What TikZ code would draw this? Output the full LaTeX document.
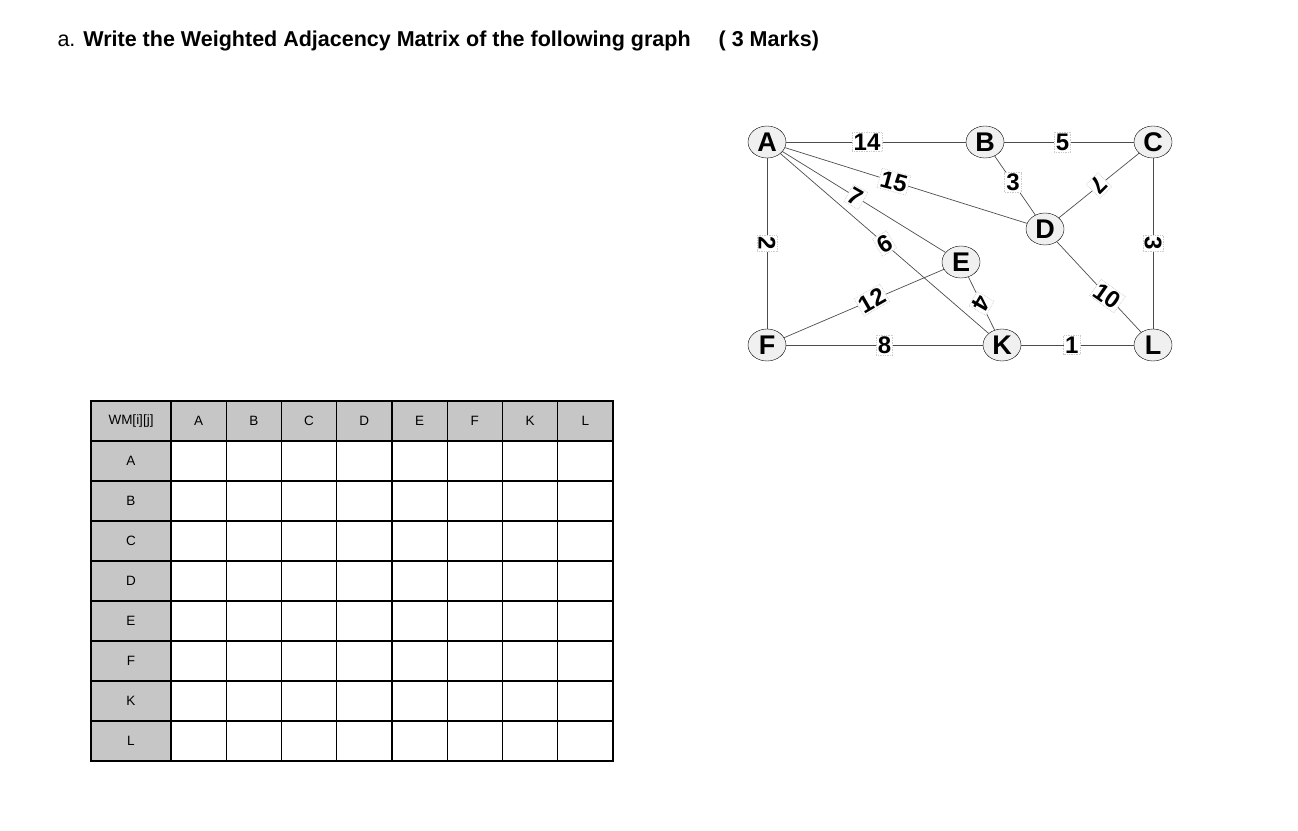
\documentclass[tikz,border=0pt]{standalone}
\usepackage{fontspec}
\setmainfont{Liberation Sans}
\usetikzlibrary{shapes.geometric}
\begin{document}
\begin{tikzpicture}[x=1pt,y=-1pt,
 vtx/.style={ellipse,draw,fill=gray!12,inner sep=0pt,minimum width=38pt,minimum height=32pt,font=\fontsize{27}{27}\selectfont\bfseries},
 wl/.style={fill=white,draw=gray!40,densely dotted,inner sep=1.5pt,font=\fontsize{24}{24}\selectfont\bfseries},
 ed/.style={draw=black!70,line width=0.7pt},
 cell/.style={draw,line width=1.2pt,minimum width=54pt,minimum height=40pt,inner sep=0pt,font=\fontsize{13.5}{13.5}\selectfont}]
\useasboundingbox (0,0) rectangle (1298,830);
\node[anchor=west,font=\fontsize{21.5}{21.5}\selectfont] (t) at (54,41) {a. \textbf{Write the Weighted Adjacency Matrix of the following graph}\hspace{28pt}\textbf{( 3 Marks)}};
\node[vtx] (A) at (767,142) {A};
\node[vtx] (B) at (985,142) {B};
\node[vtx] (C) at (1153,142) {C};
\node[vtx] (D) at (1045,229) {D};
\node[vtx] (E) at (961,262) {E};
\node[vtx] (F) at (767,345) {F};
\node[vtx] (K) at (1002,345) {K};
\node[vtx] (L) at (1153,345) {L};
\draw[ed] (A) -- node[wl,pos=0.45] {14} (B);
\draw[ed] (B) -- node[wl,pos=0.45] {5} (C);
\draw[ed] (B) -- node[wl,pos=0.45] {3} (D);
\draw[ed] (A) -- node[wl,rotate=-15,pos=0.45] {15} (D);
\draw[ed] (A) -- node[wl,rotate=-30,pos=0.45] {7} (E);
\draw[ed] (A) -- node[wl,rotate=-150,pos=0.5] {9} (K);
\draw[ed] (A) -- node[wl,rotate=-90] {2} (F);
\draw[ed] (C) -- node[wl,rotate=-135,pos=0.5] {7} (D);
\draw[ed] (C) -- node[wl,rotate=-90] {3} (L);
\draw[ed] (D) -- node[wl,rotate=-35,pos=0.6] {10} (L);
\draw[ed] (F) -- node[wl,rotate=30,pos=0.55] {12} (E);
\draw[ed] (E) -- node[wl,rotate=-120,pos=0.5] {4} (K);
\draw[ed] (F) -- node[wl,pos=0.5] {8} (K);
\draw[ed] (K) -- node[wl,pos=0.45] {1} (L);
% table
\node[cell,fill=gray!45,minimum width=80pt] (h0) at (131,421) {WM[i][j]};
\foreach \c [count=\i] in {A,B,C,D,E,F,K,L}{
  \pgfmathsetmacro{\xx}{171+ (\i-1)*55.25+27.6}
  \node[cell,fill=gray!45,minimum width=55.25pt] (h\i) at (\xx,421) {\c};
  \pgfmathsetmacro{\yy}{421+\i*40}
  \node[cell,fill=gray!45,minimum width=80pt] (r\i) at (131,\yy) {\c};
  \foreach \j in {1,...,8}{
    \pgfmathsetmacro{\xj}{171+(\j-1)*55.25+27.6}
    \node[cell,minimum width=55.25pt] (c\i\j) at (\xj,\yy) {};
  }
}
\end{tikzpicture}
\end{document}
